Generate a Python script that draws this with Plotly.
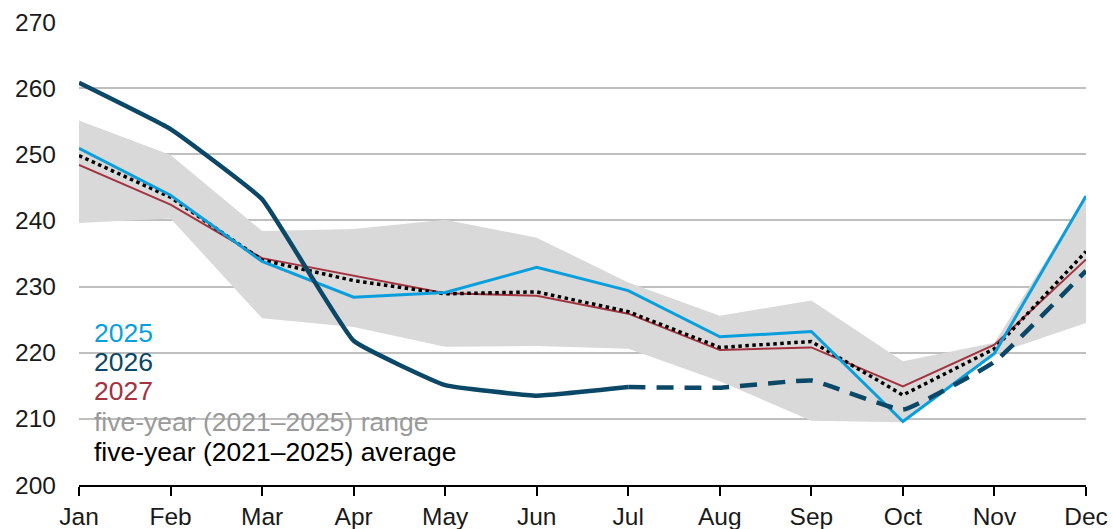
import plotly.graph_objects as go

months = ["Jan", "Feb", "Mar", "Apr", "May", "Jun", "Jul", "Aug", "Sep", "Oct", "Nov", "Dec"]

y2025 = [250.9, 243.8, 233.8, 228.4, 229.1, 232.9, 229.4, 222.4, 223.2, 209.6, 219.9, 243.7]
# 2026: history through Jul (solid), forecast from Jul (dashed)
y2026_hist = [260.8, 253.8, 243.2, 221.8, 215.1, 213.5, 214.8, None, None, None, None, None]
y2026_fcst = [None, None, None, None, None, None, 214.8, 214.7, 215.8, 211.4, 218.6, 232.4]
y2027 = [248.4, 242.4, 234.3, 231.6, 229.0, 228.6, 225.9, 220.4, 220.8, 214.9, 221.2, 234.1]
avg_5yr = [249.8, 243.5, 234.0, 230.9, 228.9, 229.2, 226.2, 220.8, 221.7, 213.6, 220.6, 235.3]
range_hi = [255.1, 249.9, 238.4, 238.7, 240.1, 237.4, 230.6, 225.6, 227.9, 218.7, 221.5, 243.7]
range_lo = [239.6, 240.3, 225.2, 223.9, 220.9, 221.0, 220.6, 215.7, 209.7, 209.5, 219.8, 224.5]

c2025 = "#0A9FDC"
c2026 = "#0B4766"
c2027 = "#A3333F"
crange = "#D9D9D9"

fig = go.Figure()

# five-year range band
fig.add_trace(go.Scatter(x=months, y=range_lo, mode="lines", line=dict(width=0, color=crange),
                         hoverinfo="skip", showlegend=False))
fig.add_trace(go.Scatter(x=months, y=range_hi, mode="lines", line=dict(width=0, color=crange),
                         fill="tonexty", fillcolor=crange, showlegend=False))

fig.add_trace(go.Scatter(x=months, y=y2027, mode="lines", line=dict(color=c2027, width=2), showlegend=False))
fig.add_trace(go.Scatter(x=months, y=avg_5yr, mode="lines", line=dict(color="black", width=3.5, dash="dot"),
                         showlegend=False))
fig.add_trace(go.Scatter(x=months, y=y2025, mode="lines", line=dict(color=c2025, width=3), showlegend=False))
fig.add_trace(go.Scatter(x=months, y=y2026_hist, mode="lines",
                         line=dict(color=c2026, width=4.5, shape="spline", smoothing=0.3), showlegend=False))
fig.add_trace(go.Scatter(x=months, y=y2026_fcst, mode="lines",
                         line=dict(color=c2026, width=4.5, dash="17px,11px", shape="spline", smoothing=0.3),
                         showlegend=False))

# text legend
legend_items = [
    ("2025", c2025, 0.328),
    ("2026", c2026, 0.265),
    ("2027", c2027, 0.202),
    ("five-year (2021\u20132025) range", "#9A9A9A", 0.135),
    ("five-year (2021\u20132025) average", "black", 0.072),
]
for txt, col, yy in legend_items:
    fig.add_annotation(x=0.013, y=yy, xref="paper", yref="paper", text=txt, showarrow=False,
                       xanchor="left", yanchor="middle", font=dict(size=26.5, color=col))

fig.update_layout(
    width=1113, height=529,
    margin=dict(l=79, r=27, t=22, b=44),
    paper_bgcolor="white", plot_bgcolor="white",
    font=dict(family="Liberation Sans, Arial, sans-serif", size=24, color="#1a1a1a"),
)
fig.update_xaxes(type="category", range=[0, 11], showgrid=False, showline=True, linecolor="black",
                 linewidth=2, ticks="outside", ticklen=9, tickwidth=2, tickcolor="black",
                 tickfont=dict(size=24.5, color="#1a1a1a"), automargin=False)
fig.update_yaxes(range=[200, 270], dtick=10, showgrid=True, gridcolor="#BFBFBF", gridwidth=2,
                 zeroline=False, showline=False, ticks="", ticklabelstandoff=22,
                 tickfont=dict(size=24.5, color="#1a1a1a"), automargin=False)

# page body has a default 8px margin; drop it so the figure fills the window
fig.write_html("out.html", config={"displayModeBar": False},
               post_script="document.body.style.margin='0';document.body.style.overflow='hidden';")
